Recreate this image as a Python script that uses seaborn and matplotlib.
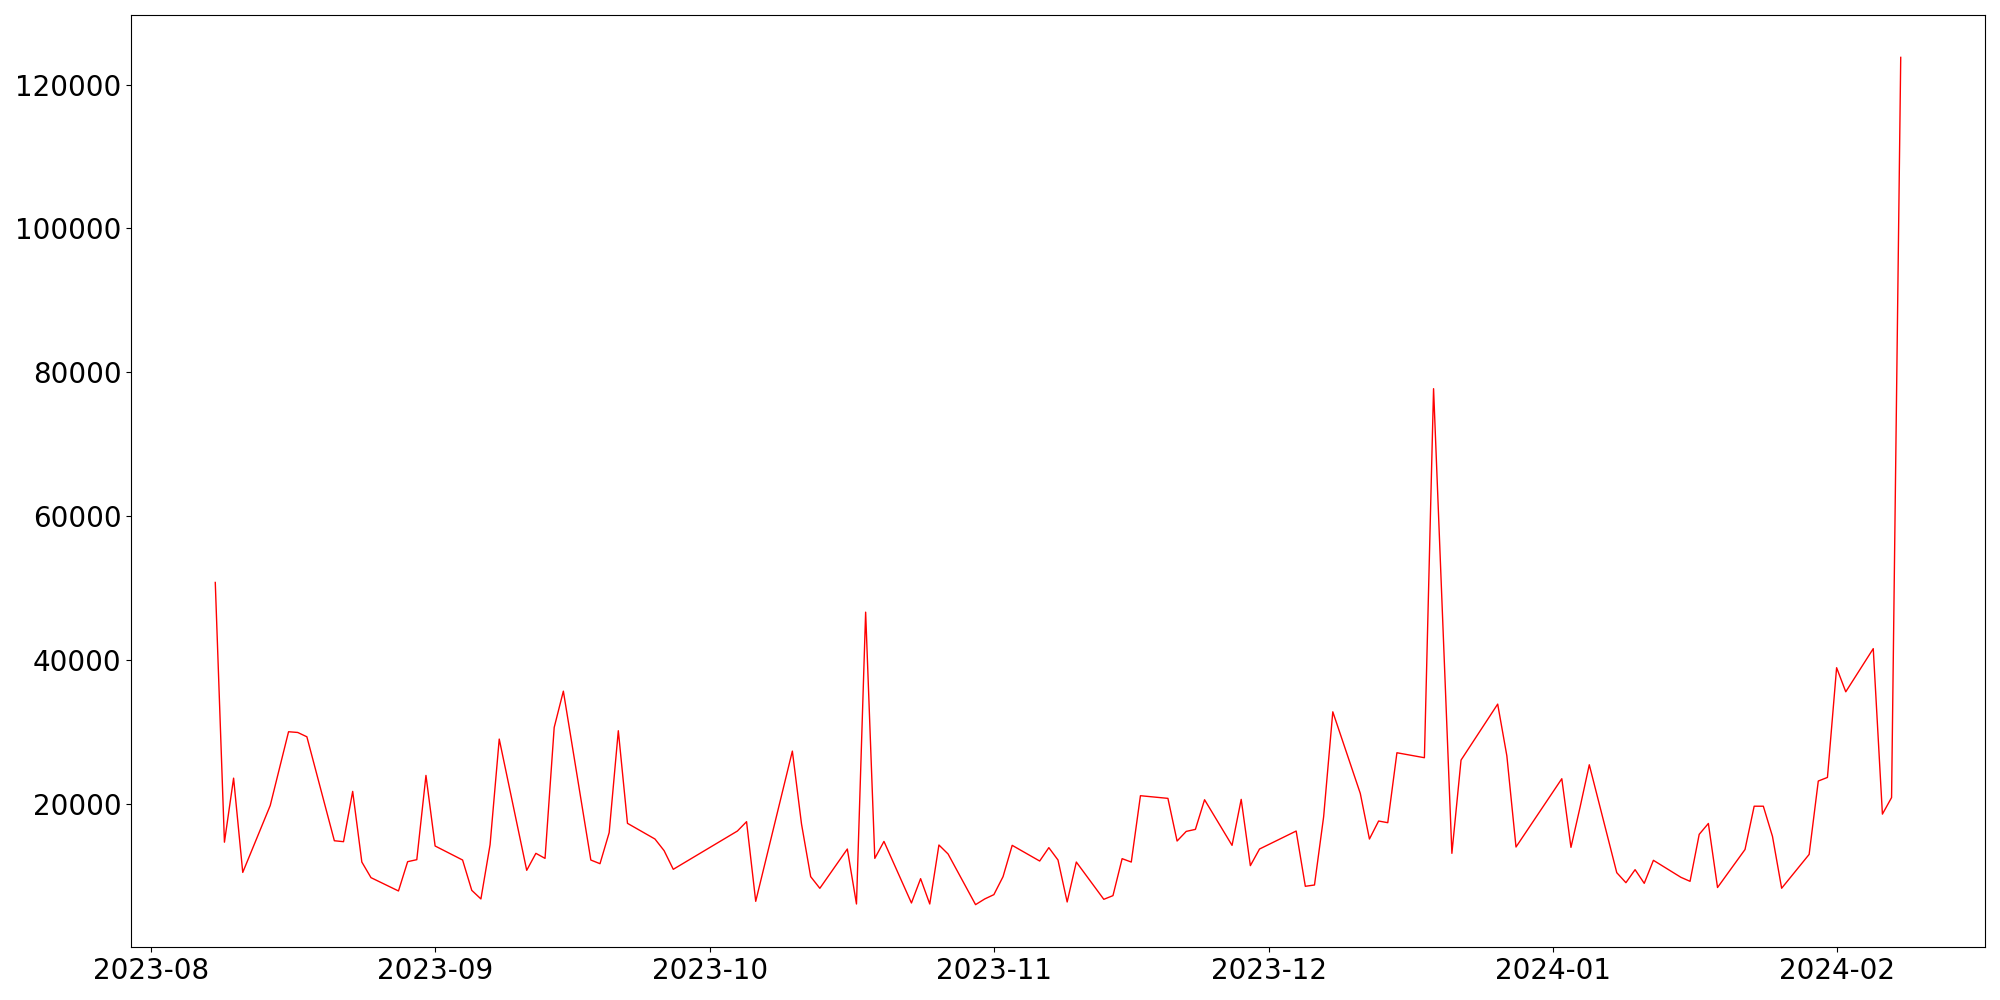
import matplotlib
matplotlib.use("Agg")
import matplotlib.pyplot as plt
import pandas as pd
import seaborn as sns

datas = [
    "2023-08-08", "2023-08-09", "2023-08-10", "2023-08-11", "2023-08-14",
    "2023-08-16", "2023-08-17", "2023-08-18", "2023-08-21", "2023-08-22",
    "2023-08-23", "2023-08-24", "2023-08-25", "2023-08-28", "2023-08-29",
    "2023-08-30", "2023-08-31", "2023-09-01", "2023-09-04", "2023-09-05",
    "2023-09-06", "2023-09-07", "2023-09-08", "2023-09-11", "2023-09-12",
    "2023-09-13", "2023-09-14", "2023-09-15", "2023-09-18", "2023-09-19",
    "2023-09-20", "2023-09-21", "2023-09-22", "2023-09-25", "2023-09-26",
    "2023-09-27", "2023-10-04", "2023-10-05", "2023-10-06", "2023-10-10",
    "2023-10-11", "2023-10-12", "2023-10-13", "2023-10-16", "2023-10-17",
    "2023-10-18", "2023-10-19", "2023-10-20", "2023-10-23", "2023-10-24",
    "2023-10-25", "2023-10-26", "2023-10-27", "2023-10-30", "2023-10-31",
    "2023-11-01", "2023-11-02", "2023-11-03", "2023-11-06", "2023-11-07",
    "2023-11-08", "2023-11-09", "2023-11-10", "2023-11-13", "2023-11-14",
    "2023-11-15", "2023-11-16", "2023-11-17", "2023-11-20", "2023-11-21",
    "2023-11-22", "2023-11-23", "2023-11-24", "2023-11-27", "2023-11-28",
    "2023-11-29", "2023-11-30", "2023-12-04", "2023-12-05", "2023-12-06",
    "2023-12-07", "2023-12-08", "2023-12-11", "2023-12-12", "2023-12-13",
    "2023-12-14", "2023-12-15", "2023-12-18", "2023-12-19", "2023-12-21",
    "2023-12-22", "2023-12-26", "2023-12-27", "2023-12-28", "2024-01-02",
    "2024-01-03", "2024-01-04", "2024-01-05", "2024-01-08", "2024-01-09",
    "2024-01-10", "2024-01-11", "2024-01-12", "2024-01-15", "2024-01-16",
    "2024-01-17", "2024-01-18", "2024-01-19", "2024-01-22", "2024-01-23",
    "2024-01-24", "2024-01-25", "2024-01-26", "2024-01-29", "2024-01-30",
    "2024-01-31", "2024-02-01", "2024-02-02", "2024-02-05", "2024-02-06",
    "2024-02-07", "2024-02-08",
]

valores = [
    50800, 14700, 23600, 10500, 19800,
    30050, 29950, 29350, 14900, 14770,
    21760, 11940, 9770, 7920, 11990,
    12270, 23980, 14170, 12220, 8010,
    6810, 14350, 29030, 10790, 13150,
    12450, 30650, 35690, 12220, 11710,
    16020, 30190, 17320, 15140, 13520,
    10930, 16250, 17550, 6480, 27360,
    17220, 9910, 8290, 13750, 6110,
    46670, 12450, 14810, 6250, 9630,
    6110, 14310, 13060, 6020, 6810,
    7410, 9910, 14260, 12080, 13940,
    12220, 6390, 11940, 6760, 7270,
    12410, 11940, 21160, 20790, 14860,
    16200, 16480, 20600, 14260, 20650,
    11440, 13750, 16250, 8570, 8750,
    18240, 32820, 21480, 15140, 17640,
    17410, 27130, 26440, 77730, 13150,
    26110, 33890, 26710, 14030, 23520,
    13980, 19600, 25460, 10460, 9070,
    10880, 8980, 12180, 9820, 9260,
    15790, 17300, 8400, 13680, 19700,
    19700, 15500, 8300, 13000, 23200,
    23700, 38950, 35600, 41600, 18600,
    20900, 123780,
]

fig, ax = plt.subplots(figsize=(20, 10), dpi=100)
sns.lineplot(x=pd.to_datetime(datas).tolist(), y=valores, color="red", linewidth=1, ax=ax)
ax.set_xlabel("")
ax.set_ylabel("")
ax.tick_params(labelsize=20)
plt.subplots_adjust(left=0.0655, right=0.9925, top=0.985, bottom=0.053)
plt.savefig("out.png")
